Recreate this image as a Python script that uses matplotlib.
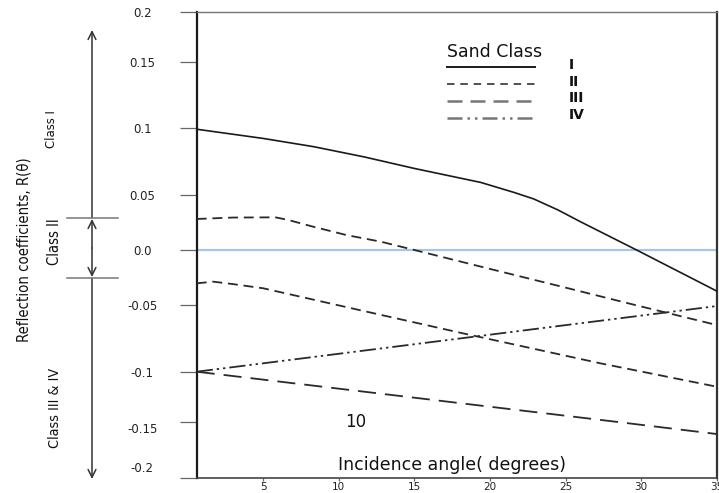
import numpy as np
import matplotlib
matplotlib.use("Agg")
import matplotlib.pyplot as plt
import matplotlib.transforms as mtransforms
from matplotlib import font_manager as fm
from matplotlib.lines import Line2D
from matplotlib.patches import FancyArrowPatch

# Reflection-coefficient axis: tick values and the uneven spacing between them
y_ticks = [-0.2, -0.15, -0.1, -0.05, 0.0, 0.05, 0.1, 0.15, 0.2]
y_tick_labels = ["-0.2", "-0.15", "-0.1", "-0.05", "0.0", "0.05", "0.1", "0.15", "0.2"]
y_tick_spacing = [0, 56, 106, 172.7, 227.7, 282.7, 349.4, 416, 465.4]
x_ticks = [5, 10, 15, 20, 25, 30, 35]

# Sand class I
angle_I = [0.6, 5, 8.35, 11.7, 15, 19.4, 21.6, 22.9, 24.5, 26, 29.7, 35]
refl_I = [0.0993, 0.0924, 0.0862, 0.0785, 0.0699, 0.0594, 0.0519, 0.0464, 0.0364,
          0.0256, 0.0, -0.0373]
# Sand class II (upper and lower bounds)
angle_IIa = [0.6, 3, 5.8, 6.6, 8.3, 10.5, 12.8, 15, 20, 25, 29.6, 35]
refl_IIa = [0.0282, 0.0295, 0.0297, 0.0275, 0.0212, 0.0136, 0.0075, 0.0, -0.0172,
            -0.0342, -0.05, -0.065]
angle_IIb = [0.6, 1.7, 3, 5, 9.4, 13.8, 18.2, 27.3, 35]
refl_IIb = [-0.0303, -0.0288, -0.031, -0.0348, -0.0485, -0.06, -0.0712, -0.0937, -0.115]
# Sand class III
angle_III = [0.6, 28.3, 35]
refl_III = [-0.1, -0.15, -0.161]
# Sand class IV
angle_IV = [0.6, 35]
refl_IV = [-0.1, -0.0508]

legend_labels = ["I", "II", "III", "IV"]

plt.rcParams["font.family"] = ["DejaVu Sans"]


def pick_narrow_face():
    """Return font kwargs for a narrow sans face, if one is installed."""
    entries = fm.fontManager.ttflist
    names = {f.name for f in entries}
    if "Liberation Sans Narrow" in names:
        return dict(family=["Liberation Sans Narrow", "DejaVu Sans"])
    for fam in ("DejaVu Sans", "Noto Sans", "Open Sans", "Roboto"):
        for f in entries:
            if f.name == fam and str(f.stretch) in ("condensed", "semi-condensed",
                                                    "extra-condensed"):
                return dict(family=[fam, "DejaVu Sans"], stretch=str(f.stretch))
    for f in entries:
        if ("Condensed" in f.name or "Narrow" in f.name) and f.style == "normal":
            return dict(family=[f.name, "DejaVu Sans"])
    return dict(family=["Open Sans", "DejaVu Sans"])


narrow = pick_narrow_face()

W, H = 719, 493
fig = plt.figure(figsize=(W / 100, H / 100), dpi=100)
ax_l, ax_r, ax_t, ax_b = 196.7, 716.7, 12.3, 477.7
ax = fig.add_axes([ax_l / W, 1 - ax_b / H, (ax_r - ax_l) / W, (ax_b - ax_t) / H])


def forward(v):
    return np.interp(v, y_ticks, y_tick_spacing)


def inverse(p):
    return np.interp(p, y_tick_spacing, y_ticks)


ax.set_yscale("function", functions=(forward, inverse))
ax.set_xlim(0.6, 35)
ax.set_ylim(-0.2, 0.2)

ax.axhline(0.0, color="#a9c5e6", lw=1.6, zorder=1)

style_I = dict(color="#1a1a1a", lw=1.2, linestyle="-")
style_II = dict(color="#2a2a2a", lw=1.3, linestyle=(0, (5.5, 3.2)))
style_III = dict(color="#2a2a2a", lw=1.3, linestyle=(0, (10, 5)))
style_IV = dict(color="#2a2a2a", lw=1.3, linestyle=(0, (9, 2.2, 1.3, 2.2, 1.3, 2.2)))

ax.plot(angle_I, refl_I, **style_I, zorder=3)
ax.plot(angle_IIa, refl_IIa, **style_II, zorder=3)
ax.plot(angle_IIb, refl_IIb, **style_II, zorder=3)
ax.plot(angle_III, refl_III, **style_III, zorder=3)
ax.plot(angle_IV, refl_IV, **style_IV, zorder=3)

# axes frame
for side, col, w in [("left", "#1a1a1a", 1.6), ("right", "#333333", 1.6),
                     ("top", "#777777", 1.0), ("bottom", "#444444", 1.2)]:
    ax.spines[side].set_color(col)
    ax.spines[side].set_linewidth(w)

ax.set_yticks(y_ticks)
ax.set_yticklabels(y_tick_labels)
ax.yaxis.set_minor_locator(matplotlib.ticker.NullLocator())
ax.set_xticks(x_ticks)
ax.set_xticklabels([str(v) for v in x_ticks])
ax.tick_params(axis="y", direction="out", length=12.2, width=0.9, color="#666666",
               pad=27, labelsize=8.5, labelcolor="#222222")
ax.tick_params(axis="x", direction="out", length=2.5, width=0.9, color="#666666",
               pad=0.5, labelsize=7.5, labelcolor="#222222")
plt.setp(ax.get_yticklabels(), ha="center")

# the two lowest value labels sit a little off their tick marks
label_shift_px = {-0.2: 11, -0.15: -6}
for tick, val in zip(ax.yaxis.get_major_ticks(), y_ticks):
    dy = label_shift_px.get(val, 0)
    if dy:
        tick.label1.set_transform(
            tick.label1.get_transform()
            + mtransforms.ScaledTranslation(0, dy / 100, fig.dpi_scale_trans))


def axfrac(px, py):
    return (px - ax_l) / (ax_r - ax_l), (ax_b - py) / (ax_b - ax_t)


# legend block
ax.text(*axfrac(446.7, 52), "Sand Class", transform=ax.transAxes, fontsize=12.5,
        ha="left", va="center", color="#111111")
key_styles = [
    dict(color="#1a1a1a", lw=1.4, linestyle="-"),
    dict(color="#333333", lw=1.2, linestyle=(0, (4.5, 3.5))),
    dict(color="#777777", lw=1.8, linestyle=(0, (6, 3.2))),
    dict(color="#777777", lw=1.8, linestyle=(0, (6, 2, 1, 2, 1, 2))),
]
key_y = [67.5, 84, 101, 117.5]
lab_y = [65, 82, 98.5, 115]
for ks, ky, ly, lab in zip(key_styles, key_y, lab_y, legend_labels):
    x0, y0 = axfrac(446.7, ky)
    x1, _ = axfrac(535, ky)
    ax.add_line(Line2D([x0, x1], [y0, y0], transform=ax.transAxes, **ks))
    ax.text(*axfrac(569, ly), lab, transform=ax.transAxes, fontsize=10,
            fontweight="bold", ha="left", va="center", color="#111111")

ax.text(*axfrac(355.7, 422), "10", transform=ax.transAxes, fontsize=12,
        ha="center", va="center", color="#111111")
ax.text(*axfrac(452.5, 465), "Incidence angle( degrees)", transform=ax.transAxes,
        fontsize=12.5, ha="center", va="center", color="#111111")


def figfrac(px, py):
    return px / W, 1 - py / H


# class ranges on the left
arrow_kw = dict(transform=fig.transFigure, arrowstyle="->", mutation_scale=14,
                lw=1.1, color="#333333", shrinkA=0, shrinkB=0)
fig.add_artist(FancyArrowPatch(figfrac(92, 218), figfrac(92, 30), **arrow_kw))
fig.add_artist(FancyArrowPatch(figfrac(92, 248), figfrac(92, 219), **arrow_kw))
fig.add_artist(FancyArrowPatch(figfrac(92, 248), figfrac(92, 277), **arrow_kw))
fig.add_artist(FancyArrowPatch(figfrac(92, 278), figfrac(92, 479), **arrow_kw))
for py in (217.5, 278.3):
    fig.add_artist(Line2D([66.7 / W, 118.3 / W], [1 - py / H, 1 - py / H],
                          transform=fig.transFigure, color="#777777", lw=1.1))

captions = [
    ("Reflection coefficients, R(\u03b8)", 24, 250, 184),
    ("Class I", 51.7, 129, 38),
    ("Class II", 55, 241.5, 47),
    ("Class III & IV", 55, 408, 80),
]
cap_artists = []
for txt, cx, cy, length in captions:
    t = fig.text(*figfrac(cx, cy), txt, rotation=90, ha="center", va="center",
                 fontsize=11, color="#111111", **narrow)
    cap_artists.append((t, length))

renderer = fig.canvas.get_renderer()
for t, length in cap_artists:
    h = t.get_window_extent(renderer).height
    t.set_fontsize(t.get_fontsize() * length / h)

fig.savefig("out.png", dpi=100)
